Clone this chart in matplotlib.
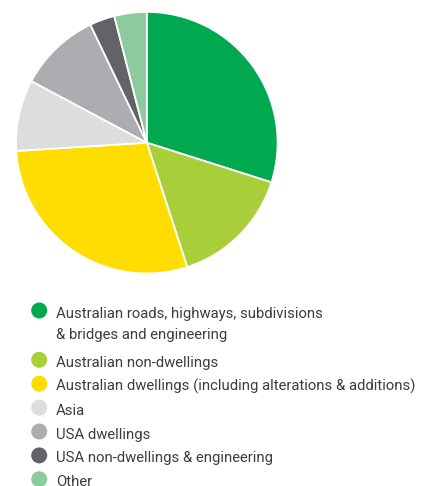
import matplotlib
matplotlib.use("Agg")
import matplotlib.pyplot as plt
from matplotlib.patches import Circle

categories = [
    "Australian roads, highways, subdivisions\n& bridges and engineering",
    "Australian non-dwellings",
    "Australian dwellings (including alterations & additions)",
    "Asia",
    "USA dwellings",
    "USA non-dwellings & engineering",
    "Other",
]
values = [29.9, 15.1, 29.0, 8.8, 10.1, 3.1, 4.0]
colors = ["#00A84F", "#A8CF3A", "#FFDD00", "#DCDDDE", "#ABADB0", "#626366", "#8DCB9E"]

W, H = 422, 486
fig = plt.figure(figsize=(W / 100, H / 100), dpi=100)

cx, cy, r = 146.8, 142.7, 130.8
ax = fig.add_axes([(cx - r) / W, (H - cy - r) / H, 2 * r / W, 2 * r / H])
ax.pie(values, colors=colors, startangle=90, counterclock=False,
       wedgeprops=dict(edgecolor="white", linewidth=1.3))
ax.set_xlim(-1, 1)
ax.set_ylim(-1, 1)
ax.set_aspect("equal")
ax.axis("off")

lax = fig.add_axes([0, 0, 1, 1])
lax.set_xlim(0, W)
lax.set_ylim(H, 0)
lax.axis("off")

y = 310.5
for lab, col in zip(categories, colors):
    lax.add_patch(Circle((39.2, y), 8, color=col, lw=0))
    for i, line in enumerate(lab.split("\n")):
        lax.text(56, y + 7 + 21 * i, line, fontsize=10.75, family="Roboto",
                 color="#3d3d3d", va="baseline", ha="left")
    n = lab.count("\n")
    y += 23.9 + n * 25.4

fig.savefig("out.png", dpi=100)
